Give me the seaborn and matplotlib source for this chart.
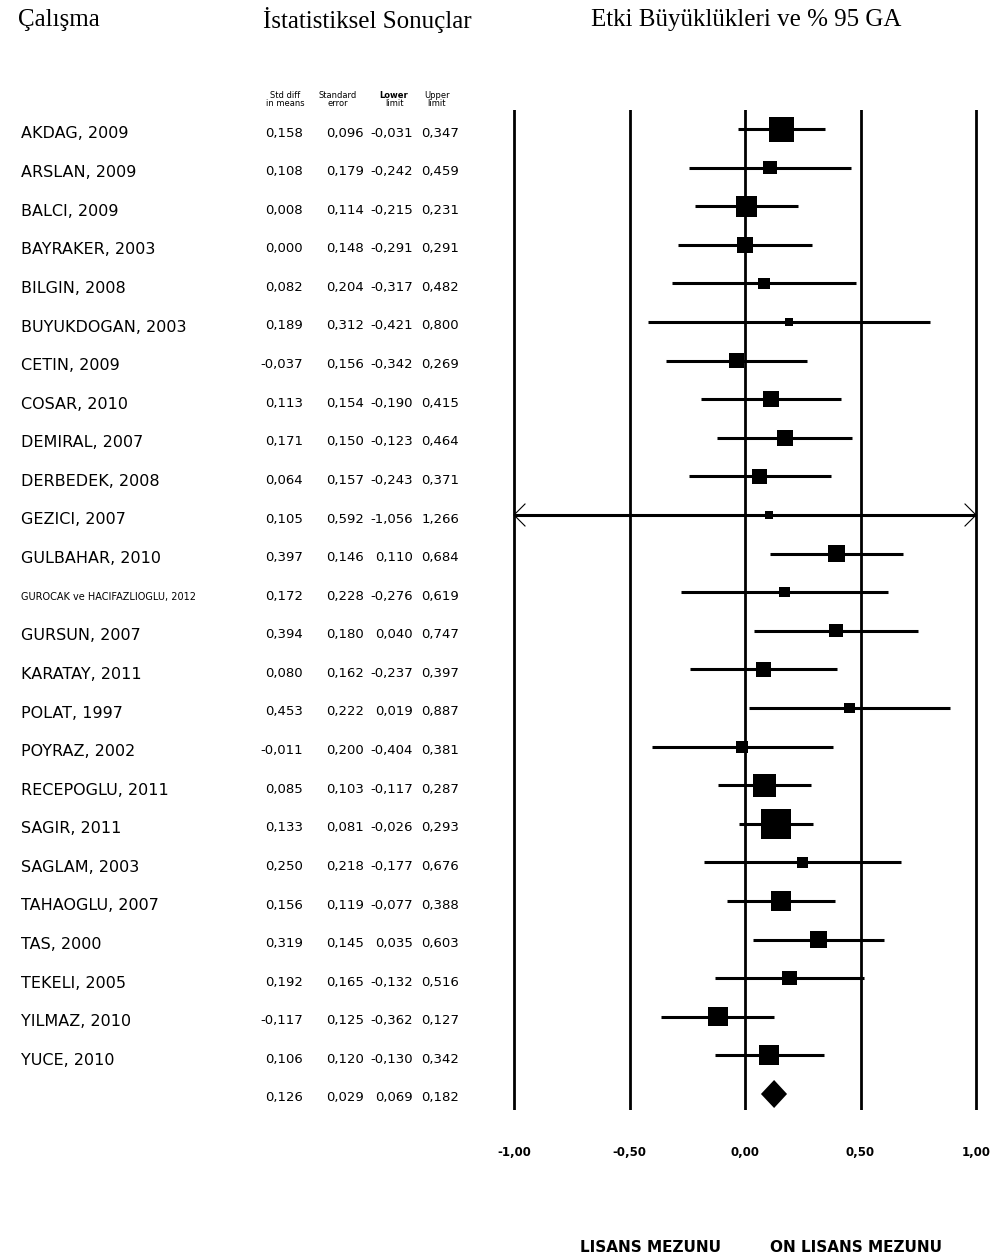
import matplotlib
matplotlib.use("Agg")
import matplotlib.pyplot as plt
import seaborn as sns

studies = ["AKDAG, 2009", "ARSLAN, 2009", "BALCI, 2009", "BAYRAKER, 2003", "BILGIN, 2008",
           "BUYUKDOGAN, 2003", "CETIN, 2009", "COSAR, 2010", "DEMIRAL, 2007", "DERBEDEK, 2008",
           "GEZICI, 2007", "GULBAHAR, 2010", "GUROCAK ve HACIFAZLIOGLU, 2012", "GURSUN, 2007",
           "KARATAY, 2011", "POLAT, 1997", "POYRAZ, 2002", "RECEPOGLU, 2011", "SAGIR, 2011",
           "SAGLAM, 2003", "TAHAOGLU, 2007", "TAS, 2000", "TEKELI, 2005", "YILMAZ, 2010", "YUCE, 2010"]
effect = [0.158, 0.108, 0.008, 0.000, 0.082, 0.189, -0.037, 0.113, 0.171, 0.064, 0.105, 0.397,
          0.172, 0.394, 0.080, 0.453, -0.011, 0.085, 0.133, 0.250, 0.156, 0.319, 0.192, -0.117, 0.106]
std_err = [0.096, 0.179, 0.114, 0.148, 0.204, 0.312, 0.156, 0.154, 0.150, 0.157, 0.592, 0.146,
           0.228, 0.180, 0.162, 0.222, 0.200, 0.103, 0.081, 0.218, 0.119, 0.145, 0.165, 0.125, 0.120]
lower = [-0.031, -0.242, -0.215, -0.291, -0.317, -0.421, -0.342, -0.190, -0.123, -0.243, -1.056,
         0.110, -0.276, 0.040, -0.237, 0.019, -0.404, -0.117, -0.026, -0.177, -0.077, 0.035,
         -0.132, -0.362, -0.130]
upper = [0.347, 0.459, 0.231, 0.291, 0.482, 0.800, 0.269, 0.415, 0.464, 0.371, 1.266, 0.684,
         0.619, 0.747, 0.397, 0.887, 0.381, 0.287, 0.293, 0.676, 0.388, 0.603, 0.516, 0.127, 0.342]
summary = [0.126, 0.029, 0.069, 0.182]  # effect, se, lower, upper
ticks = [-1.0, -0.5, 0.0, 0.5, 1.0]
side_labels = ["LISANS MEZUNU", "ON LISANS MEZUNU"]

W, H = 999, 1260
ROW0, PITCH = 129, 38.6
fig = plt.figure(figsize=(W / 100, H / 100), dpi=100)

# text layer in pixel coordinates
tax = fig.add_axes([0, 0, 1, 1])
tax.set_xlim(0, W)
tax.set_ylim(H, 0)
tax.axis("off")

serif = "Liberation Serif"
tax.text(18, 20, "Çalışma", family=serif, fontsize=18, va="center")
tax.text(263, 20, "İstatistiksel Sonuçlar", family=serif, fontsize=18, va="center")
tax.text(591, 20, "Etki Büyüklükleri ve % 95 GA", family=serif, fontsize=18, va="center")

heads = [("Std diff", "in means", 285, "normal"), ("Standard", "error", 338, "normal"),
         ("Lower", "limit", 394, "bold"), ("Upper", "limit", 437, "normal")]
for l1, l2, x, w in heads:
    tax.text(x, 96, l1, fontsize=6, ha="center", va="center", fontweight=w)
    tax.text(x, 103, l2, fontsize=6, ha="center", va="center")

col_x = [303, 364, 413, 459]
fmt = lambda v: f"{v:.3f}".replace(".", ",")
for i, name in enumerate(studies):
    y = ROW0 + i * PITCH
    fs = 7 if len(name) > 20 else 11.5
    tax.text(21, y + 5, name, fontsize=fs, va="center")
    for x, v in zip(col_x, [effect[i], std_err[i], lower[i], upper[i]]):
        tax.text(x, y + 4, fmt(v), fontsize=9.5, ha="right", va="center")
ys = ROW0 + len(studies) * PITCH
for x, v in zip(col_x, summary):
    tax.text(x, ys + 4, fmt(v), fontsize=9.5, ha="right", va="center")

# forest panel
ppu = 231.0
left_px, right_px, top_px, bot_px = 505, 985, 110, 1110
ax = fig.add_axes([left_px / W, (H - bot_px) / H, (right_px - left_px) / W, (bot_px - top_px) / H])
ax.set_xlim(-1 - (745 - ppu - left_px) / ppu, 1 + (right_px - 745 - ppu) / ppu)
ax.set_ylim((bot_px - ROW0) / PITCH, (top_px - ROW0) / PITCH)
ax.axis("off")

for t in ticks:
    ax.axvline(t, color="black", lw=2.0, zorder=1)

rows = list(range(len(studies)))
lo_c = [max(v, -1.0) for v in lower]
hi_c = [min(v, 1.0) for v in upper]
ax.hlines(rows, lo_c, hi_c, color="black", lw=2.2, zorder=2)

# open arrow heads where the interval runs off the scale
ah_x, ah_y = 11 / ppu, 11 / PITCH
for r, lo, hi in zip(rows, lower, upper):
    if lo < -1:
        ax.plot([-1 + ah_x, -1, -1 + ah_x], [r - ah_y, r, r + ah_y], color="black", lw=0.8, zorder=2)
    if hi > 1:
        ax.plot([1 - ah_x, 1, 1 - ah_x], [r - ah_y, r, r + ah_y], color="black", lw=0.8, zorder=2)

# box side ~ inverse standard error (weight), with a minimum size
side_pt = [max(2.4 / se, 8.0) * 0.72 for se in std_err]
sns.scatterplot(x=effect, y=rows, marker="s", color="black", s=[p ** 2 for p in side_pt],
                linewidth=0, ax=ax, zorder=3, legend=False)
ax.set_xlim(-1 - (745 - ppu - left_px) / ppu, 1 + (right_px - 745 - ppu) / ppu)
ax.set_ylim((bot_px - ROW0) / PITCH, (top_px - ROW0) / PITCH)
ax.axis("off")

sr = len(studies)
dh = 14 / PITCH
ax.fill([summary[2], summary[0], summary[3], summary[0]], [sr, sr - dh, sr, sr + dh],
        color="black", zorder=3, lw=0)

for t in ticks:
    ax.text(t, (1152 - ROW0) / PITCH, f"{t:.2f}".replace(".", ","), fontsize=8.5,
            fontweight="bold", ha="center", va="center", clip_on=False)

tax.text(651, 1248, side_labels[0], fontsize=11, fontweight="bold", ha="center", va="center")
tax.text(856, 1248, side_labels[1], fontsize=11, fontweight="bold", ha="center", va="center")

fig.savefig("out.png", dpi=100, facecolor="white")
